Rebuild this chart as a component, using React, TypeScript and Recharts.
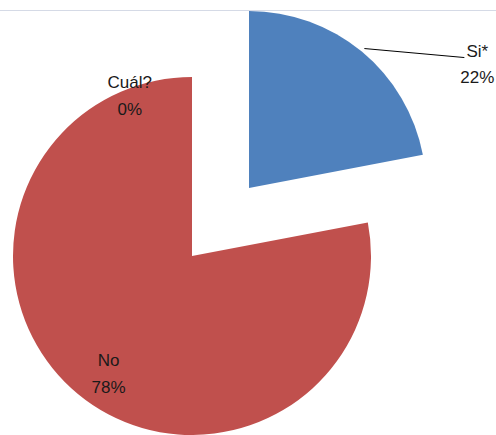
import React from "react";
import { PieChart, Pie, Cell } from "recharts";

// Answers and their shares (percent)
const CATEGORIES = ["Si*", "No", "Cuál?"];
const VALUES = [22, 78, 0];

const BLUE = "#4F81BD";
const RED = "#C0504D";
const TEXT = "#1a1a1a";
const RADIAN = Math.PI / 180;

const data = CATEGORIES.map((name, i) => ({ name, value: VALUES[i] }));

const polar = (cx: number, cy: number, r: number, angle: number) => ({
  x: cx + r * Math.cos(-angle * RADIAN),
  y: cy + r * Math.sin(-angle * RADIAN),
});

const FONT = { fontFamily: "'Liberation Sans', Arial, sans-serif", fontSize: 17 };

// label for the exploded slice: leader line out to the right
const renderOuterLabel = (props: any) => {
  const { cx, cy, midAngle, outerRadius, name, percent } = props;
  if (name !== "Si*") return null;
  const start = polar(cx, cy, outerRadius + 4, midAngle);
  const end = { x: start.x + 100, y: start.y + 9 };
  const tx = end.x + 13;
  return (
    <g key={name}>
      <path d={`M${start.x},${start.y}L${end.x},${end.y}`} stroke="#000" strokeWidth={1} fill="none" />
      <text x={tx} y={end.y - 1} textAnchor="middle" fill={TEXT} style={FONT}>
        {name}
      </text>
      <text x={tx} y={end.y + 25} textAnchor="middle" fill={TEXT} style={FONT}>
        {`${Math.round(percent * 100)}%`}
      </text>
    </g>
  );
};

// labels inside the main pie
const renderInnerLabel = (props: any) => {
  const { cx, cy, midAngle, outerRadius, name, percent, value } = props;
  if (name === "Si*") return null;
  // a zero slice gets nudged off the edge, like the spreadsheet does
  const angle = value === 0 ? midAngle + 21 : midAngle + 4;
  const r = value === 0 ? outerRadius * 0.97 : outerRadius * 0.8;
  const p = polar(cx, cy, r, angle);
  return (
    <g key={name}>
      <text x={p.x} y={p.y - 6} textAnchor="middle" fill={TEXT} style={FONT}>
        {name}
      </text>
      <text x={p.x} y={p.y + 21} textAnchor="middle" fill={TEXT} style={FONT}>
        {`${Math.round(percent * 100)}%`}
      </text>
    </g>
  );
};

export default function App() {
  return (
    <div
      style={{
        position: "absolute",
        left: 0,
        top: 0,
        width: 496,
        height: 435,
        overflow: "hidden",
        background: "#fff",
      }}
    >
      <div style={{ position: "absolute", left: 0, top: 10, width: 496, height: 1, background: "#d5dae6" }} />
      <PieChart
        width={496}
        height={435}
        margin={{ top: 0, right: 0, bottom: 0, left: 0 }}
        style={{ position: "absolute", left: 0, top: 0 }}
      >
        <Pie
          data={data}
          dataKey="value"
          nameKey="name"
          cx={192}
          cy={256}
          outerRadius={179}
          startAngle={90}
          endAngle={-270}
          stroke="none"
          labelLine={false}
          label={renderInnerLabel}
          isAnimationActive={false}
        >
          {data.map((d) => (
            <Cell key={d.name} fill={d.name === "No" ? RED : "transparent"} />
          ))}
        </Pie>
        <Pie
          data={data}
          dataKey="value"
          nameKey="name"
          cx={249}
          cy={188}
          outerRadius={177}
          startAngle={90}
          endAngle={-270}
          stroke="none"
          labelLine={false}
          label={renderOuterLabel}
          isAnimationActive={false}
        >
          {data.map((d) => (
            <Cell key={d.name} fill={d.name === "Si*" ? BLUE : "transparent"} />
          ))}
        </Pie>
      </PieChart>
    </div>
  );
}
